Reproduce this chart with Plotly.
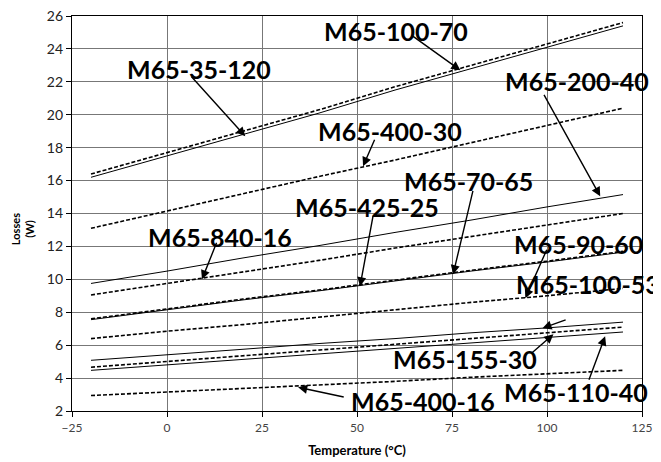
import plotly.graph_objects as go

temps = [-20, 0, 20, 40, 60, 80, 100, 120]

names = ["M65-100-70", "M65-35-120", "M65-400-30", "M65-200-40", "M65-840-16", "M65-425-25",
         "M65-70-65", "M65-90-60", "M65-100-53", "M65-155-30", "M65-110-40", "M65-400-16"]

m65_100_70 = [16.4, 17.7, 19.0, 20.3, 21.7, 23.0, 24.3, 25.6]
m65_35_120 = [16.2, 17.5, 18.8, 20.1, 21.5, 22.8, 24.1, 25.4]
m65_400_30 = [13.1, 14.15, 15.2, 16.25, 17.25, 18.3, 19.35, 20.4]
m65_200_40 = [9.75, 10.5, 11.3, 12.05, 12.85, 13.6, 14.4, 15.15]
m65_840_16 = [9.05, 9.75, 10.45, 11.15, 11.9, 12.6, 13.3, 14.0]
m65_425_25 = [7.6, 8.2, 8.8, 9.35, 9.95, 10.55, 11.1, 11.7]
m65_70_65 = [7.55, 8.15, 8.75, 9.3, 9.9, 10.5, 11.05, 11.65]
m65_90_60 = [6.4, 6.85, 7.25, 7.7, 8.15, 8.6, 9.0, 9.45]
m65_100_53 = [5.08, 5.4, 5.75, 6.1, 6.4, 6.75, 7.05, 7.4]
m65_155_30 = [4.66, 5.0, 5.35, 5.7, 6.05, 6.4, 6.75, 7.1]
m65_110_40 = [4.47, 4.8, 5.15, 5.45, 5.8, 6.15, 6.45, 6.8]
m65_400_16 = [2.94, 3.15, 3.35, 3.6, 3.8, 4.05, 4.25, 4.47]

series = [m65_100_70, m65_35_120, m65_400_30, m65_200_40, m65_840_16, m65_425_25,
          m65_70_65, m65_90_60, m65_100_53, m65_155_30, m65_110_40, m65_400_16]
dashed = [True, False, True, False, True, True, False, True, False, True, False, True]

# callout labels (same order as names): text position, arrow tail, arrow head
label_x = [60.3, 8.4, 58.7, 108.0, 14.0, 52.7, 79.3, 108.2, 110.9, 78.5, 107.7, 67.4]
label_y = [25.07, 22.76, 19.0, 22.03, 12.56, 14.38, 15.96, 12.13, 9.70, 5.14, 3.14, 2.6]
tail_x = [64.0, 6.1, 54.8, 99.0, 13.2, 54.3, 80.6, 100.1, 105.3, 95.6, 110.9, 46.9]
tail_y = [24.89, 22.40, 18.57, 21.30, 12.31, 13.95, 15.47, 11.89, 7.57, 5.45, 3.81, 2.83]
head_x = [77.2, 20.6, 51.6, 114.0, 9.2, 50.8, 75.3, 94.3, 98.8, 101.7, 115.3, 34.5]
head_y = [22.70, 18.69, 16.87, 15.05, 10.0, 9.58, 10.31, 8.85, 7.03, 6.66, 6.54, 3.44]

fig = go.Figure()
for n, s, d in zip(names, series, dashed):
    fig.add_trace(go.Scatter(
        x=temps, y=s, name=n, mode="lines",
        line=dict(color="black", width=1.6 if d else 1.0, dash="4px,2px" if d else "solid"),
    ))

annotations = []
for i, n in enumerate(names):
    annotations.append(dict(x=head_x[i], y=head_y[i], ax=tail_x[i], ay=tail_y[i],
                            xref="x", yref="y", axref="x", ayref="y", text="",
                            showarrow=True, arrowhead=2, arrowsize=1.3, arrowwidth=1.4,
                            arrowcolor="black"))
    annotations.append(dict(x=label_x[i], y=label_y[i], xref="x", yref="y", text="<b>" + n + "</b>",
                            showarrow=False, font=dict(family="Lato", size=25, color="black")))

annotations.append(dict(x=-0.088, y=0.46, xref="paper", yref="paper", text="<b>Losses<br>(W)</b>",
                        showarrow=False, textangle=-90, xanchor="center", yanchor="middle",
                        font=dict(family="Lato", size=11, color="black")))

fig.update_layout(
    width=653, height=454,
    margin=dict(l=64, r=19, t=8, b=51),
    paper_bgcolor="white", plot_bgcolor="white",
    showlegend=False,
    annotations=annotations,
    xaxis=dict(range=[-25, 125], tickmode="array", tickvals=[-25, 0, 25, 50, 75, 100, 125],
               automargin=False, ticklabeloverflow="allow",
               showgrid=True, gridcolor="#777777", gridwidth=1.3,
               showline=True, linecolor="black", linewidth=1.3, mirror=True,
               ticks="outside", ticklen=5, tickcolor="black",
               tickfont=dict(family="Lato", size=12, color="#444444"),
               title=dict(text="<b>Temperature (°C)</b>", font=dict(family="Lato", size=13, color="black"),
                          standoff=12),
               zeroline=False),
    yaxis=dict(range=[2, 26], tickmode="array", tickvals=list(range(2, 27, 2)),
               automargin=False, ticklabeloverflow="allow",
               showgrid=True, gridcolor="#777777", gridwidth=1.3,
               showline=True, linecolor="black", linewidth=1.3, mirror=True,
               ticks="outside", ticklen=5, tickcolor="black",
               tickfont=dict(family="Lato", size=14, color="#222222"),
               zeroline=False),
)

fig.write_html("out.html")
